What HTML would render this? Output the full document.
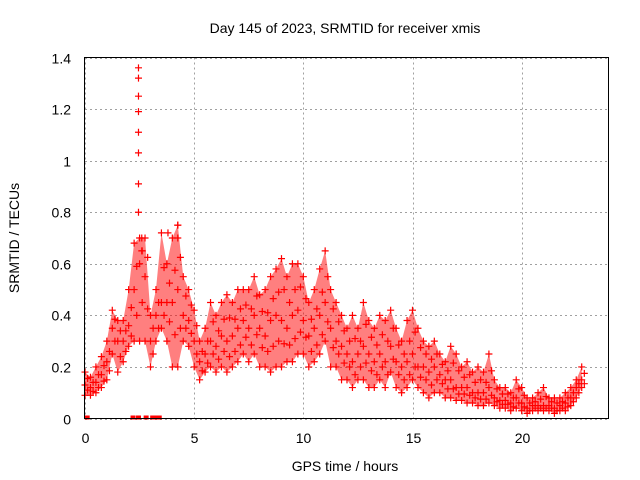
<!DOCTYPE html>
<html><head><meta charset="utf-8"><style>
body{margin:0;background:#fff}
svg{display:block;font-family:"Liberation Sans",sans-serif}
</style></head><body>
<svg width="640" height="480" id="chart">
<text x="345" y="33" font-size="14" text-anchor="middle">Day 145 of 2023, SRMTID for receiver xmis</text>
<text x="345" y="471" font-size="14" text-anchor="middle">GPS time / hours</text>
<text transform="translate(19,238) rotate(-90)" font-size="14" text-anchor="middle">SRMTID / TECUs</text>
<g id="grid"></g><g id="marks"></g>
<rect x="84.5" y="57.5" width="524" height="361" fill="none" stroke="#000"/>
</svg>
<script>
const times=[0,0.25,0.5,0.75,1,1.25,1.5,1.75,2,2.25,2.5,2.75,3,3.25,3.5,3.75,4,4.25,4.5,4.75,5,5.25,5.5,5.75,6,6.25,6.5,6.75,7,7.25,7.5,7.75,8,8.25,8.5,8.75,9,9.25,9.5,9.75,10,10.25,10.5,10.75,11,11.25,11.5,11.75,12,12.25,12.5,12.75,13,13.25,13.5,13.75,14,14.25,14.5,14.75,15,15.25,15.5,15.75,16,16.25,16.5,16.75,17,17.25,17.5,17.75,18,18.25,18.5,18.75,19,19.25,19.5,19.75,20,20.25,20.5,20.75,21,21.25,21.5,21.75,22,22.25,22.5,22.75];
const hiVals=[.18,.16,.2,.24,.3,.42,.38,.38,.5,.68,.7,.7,.4,.5,.72,.6,.7,.75,.55,.5,.42,.3,.35,.45,.4,.45,.48,.45,.5,.5,.5,.55,.48,.5,.55,.58,.62,.55,.6,.6,.55,.45,.5,.58,.65,.5,.45,.4,.35,.4,.35,.45,.38,.35,.4,.38,.42,.35,.3,.38,.42,.35,.3,.28,.3,.25,.22,.28,.25,.2,.22,.18,.2,.18,.25,.15,.12,.12,.1,.15,.12,.08,.08,.1,.12,.08,.08,.08,.1,.12,.15,.2];
const midVals=[.13,.12,.14,.17,.22,.35,.3,.3,.36,.5,.6,.55,.3,.4,.45,.45,.45,.5,.4,.38,.3,.22,.25,.3,.28,.32,.3,.32,.35,.38,.35,.4,.35,.32,.38,.4,.38,.35,.4,.42,.38,.32,.35,.4,.45,.35,.3,.28,.25,.22,.25,.28,.25,.22,.25,.22,.28,.22,.2,.22,.25,.2,.2,.18,.2,.17,.15,.15,.12,.12,.12,.1,.1,.1,.12,.08,.07,.07,.06,.08,.06,.04,.05,.05,.05,.05,.04,.05,.06,.08,.12,.15];
const loVals=[.09,.09,.1,.12,.15,.25,.18,.22,.28,.3,.3,.3,.2,.3,.35,.3,.2,.2,.3,.28,.2,.15,.18,.2,.18,.2,.18,.2,.22,.25,.22,.25,.2,.2,.18,.2,.2,.22,.22,.25,.25,.2,.22,.25,.3,.2,.2,.15,.15,.12,.15,.15,.12,.12,.15,.12,.18,.12,.1,.12,.15,.12,.1,.08,.1,.1,.08,.08,.07,.07,.06,.06,.05,.05,.06,.05,.04,.04,.03,.04,.03,.02,.03,.03,.03,.03,.02,.03,.03,.05,.08,.12];
const spikeTimes=[2.45,2.45,2.45,2.45,2.45,2.45,2.45,2.45,2.6,2.6,3.8,4.25,4.25];
const spikeVals=[1.36,1.32,1.25,1.19,1.11,1.03,.91,.80,.70,.65,.72,.75,.7];
const zeroTimes=[0.1,2.2,2.45,2.8,3.1,3.25,3.4];
const xTicks=[0,5,10,15,20];
const yTicks=[0,0.2,0.4,0.6,0.8,1,1.2,1.4];
const yTickLabels=["0","0.2","0.4","0.6","0.8","1","1.2","1.4"];
const X0=85,X1=609,Y0=418.5,Y1=57.5;
const xs=t=>X0+(t/24)*(X1-X0);
const ys=v=>Y0-(v/1.4)*(Y0-Y1);
const NS="http://www.w3.org/2000/svg";
const grid=document.getElementById('grid'),marks=document.getElementById('marks');
function mk(tag,attrs,parent){const e=document.createElementNS(NS,tag);for(const k in attrs)e.setAttribute(k,attrs[k]);parent.appendChild(e);return e;}
xTicks.forEach(t=>{const x=Math.round(xs(t))+0.5;
 const l=mk('line',{x1:x,x2:x,y1:Y1,y2:Y0,stroke:'#a0a0a0','stroke-dasharray':'2,3'},grid);
 
 
 const tx=mk('text',{x:x,y:443,'font-size':14,'text-anchor':'middle'},grid);tx.textContent=t;
 
 });
yTicks.forEach((v,i)=>{const y=Math.round(ys(v))+0.5;
 const l=mk('line',{x1:X0,x2:X1,y1:y,y2:y,stroke:'#a0a0a0','stroke-dasharray':'2,3'},grid);
 
 
 const tx=mk('text',{x:71,y:y+5,'font-size':14,'text-anchor':'end'},grid);tx.textContent=yTickLabels[i];
 
 });
function plus(t,v,col){const x=xs(t),y=ys(v);
 const p=mk('path',{d:`M${x-3.5},${y}h7M${x},${y-3.5}v7`,stroke:col,'stroke-width':1.2,fill:'none'},marks);
 
 }
let d='M'+times.map((t,i)=>xs(t)+','+ys(hiVals[i])).join('L')+'L'+times.map((t,i)=>xs(t)+','+ys(loVals[i])).reverse().join('L')+'Z';
const band=mk('path',{d:d,fill:'#ff0000','fill-opacity':0.5,stroke:'none'},marks);


times.forEach((t,i)=>{
 plus(t,hiVals[i],'#ff0000');plus(t,midVals[i],'#ff0000');plus(t,loVals[i],'#ff0000');
 plus(t+0.12,(hiVals[i]+midVals[i])/2,'#ff0000');plus(t+0.12,(midVals[i]+loVals[i])/2,'#ff0000');
});
spikeTimes.forEach((t,i)=>plus(t,spikeVals[i],'#ff0000'));
zeroTimes.forEach(t=>{const r=mk('rect',{x:xs(t)-2.5,y:Y0-3,width:5,height:4,fill:'#ff0000'},marks);
 
 });
</script>
</body></html>
